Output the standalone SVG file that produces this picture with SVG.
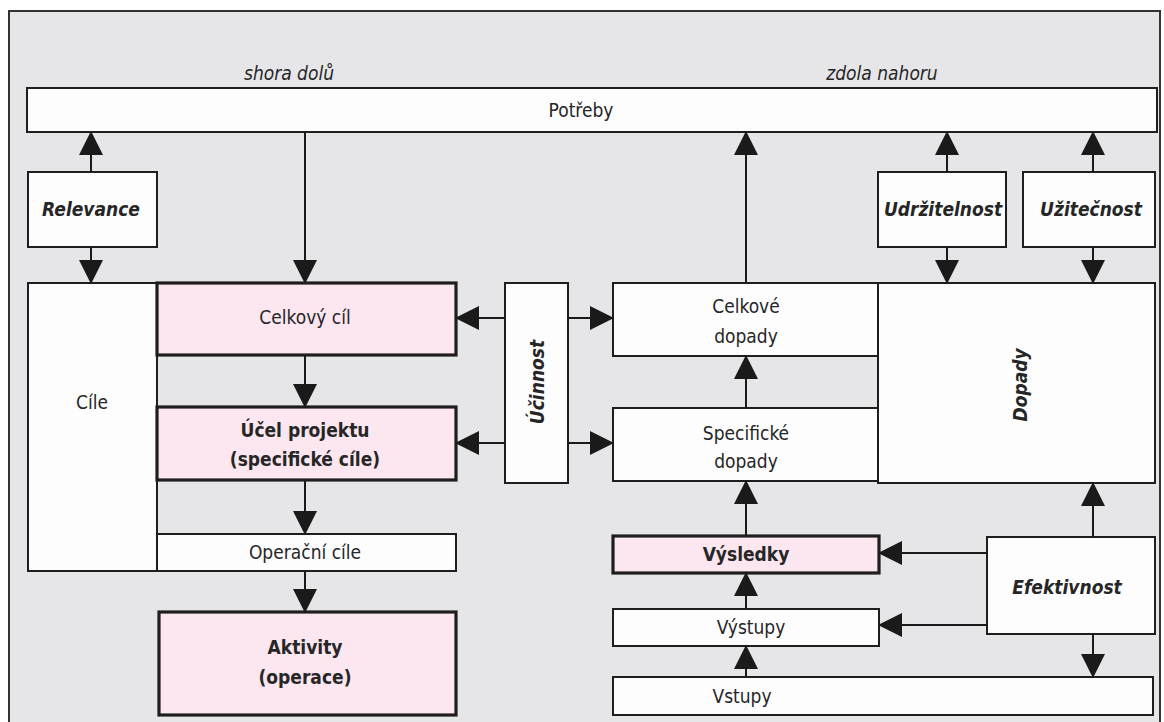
<svg xmlns="http://www.w3.org/2000/svg" width="1164" height="722" viewBox="0 0 1164 722">
<defs>
<marker id="ah" markerUnits="userSpaceOnUse" markerWidth="24" markerHeight="24" viewBox="0 0 24 24" refX="23" refY="12" orient="auto">
<path d="M0,0 L24,12 L0,24 z" fill="#1a1a1a"/>
</marker>
<style>
.bx{fill:#fdfdfd;stroke:#1e1e1e;stroke-width:2}
.pk{fill:#fce6ef;stroke:#1e1e1e;stroke-width:3.2}
.t{font-family:"DejaVu Sans Condensed","DejaVu Sans",sans-serif;font-stretch:condensed;font-size:19px;fill:#262626;text-anchor:middle}
.b{font-weight:bold}
.i{font-style:italic}
.c line{stroke:#1a1a1a;stroke-width:2;marker-end:url(#ah)}
</style>
</defs>
<rect x="0" y="0" width="1164" height="722" fill="#ffffff"/>
<rect x="9" y="11" width="1151" height="720" fill="#e6e6e8" stroke="#333" stroke-width="2"/>
<text class="t i" x="289" y="80">shora dolů</text>
<text class="t i" x="882" y="80">zdola nahoru</text>
<g id="potreby"><rect class="bx" x="27" y="88" width="1130" height="44"/><text class="t" x="581" y="117">Potřeby</text></g>
<g id="relevance"><rect class="bx" x="28" y="172" width="129" height="75"/><text class="t b i" x="91" y="216">Relevance</text></g>
<g id="udrzitelnost"><rect class="bx" x="878" y="172" width="128" height="75"/><text class="t b i" x="943" y="216">Udržitelnost</text></g>
<g id="uzitecnost"><rect class="bx" x="1023" y="172" width="132" height="75"/><text class="t b i" x="1091" y="216">Užitečnost</text></g>
<g id="cile"><rect class="bx" x="28" y="283" width="129" height="288"/><text class="t" x="92" y="409">Cíle</text></g>
<g id="celkovy-cil"><rect class="pk" x="157" y="283" width="299" height="72"/><text class="t" x="305" y="324">Celkový cíl</text></g>
<g id="ucel-projektu"><rect class="pk" x="157" y="407" width="299" height="73"/><text class="t b" x="305" y="437">Účel projektu</text><text class="t b" x="305" y="466">(specifické cíle)</text></g>
<g id="operacni-cile"><rect class="bx" x="157" y="534" width="299" height="37"/><text class="t" x="305" y="559">Operační cíle</text></g>
<g id="aktivity"><rect class="pk" x="159" y="612" width="297" height="103"/><text class="t b" x="305" y="654">Aktivity</text><text class="t b" x="305" y="684">(operace)</text></g>
<g id="ucinnost"><rect class="bx" x="505" y="283" width="63" height="200"/><text class="t b i" transform="translate(544 382) rotate(-90)">Účinnost</text></g>
<g id="celkove-dopady"><rect class="bx" x="613" y="283" width="265" height="73"/><text class="t" x="746" y="313">Celkové</text><text class="t" x="746" y="343">dopady</text></g>
<g id="dopady"><rect class="bx" x="878" y="283" width="277" height="200"/><text class="t b i" transform="translate(1027 385) rotate(-90)">Dopady</text></g>
<g id="specificke-dopady"><rect class="bx" x="613" y="408" width="265" height="73"/><text class="t" x="746" y="440">Specifické</text><text class="t" x="746" y="468">dopady</text></g>
<g id="vysledky"><rect class="pk" x="613" y="536" width="266" height="37"/><text class="t b" x="746" y="561">Výsledky</text></g>
<g id="vystupy"><rect class="bx" x="613" y="609" width="266" height="37"/><text class="t" x="751" y="634">Výstupy</text></g>
<g id="vstupy"><rect class="bx" x="613" y="677" width="540" height="38"/><text class="t" x="742" y="703">Vstupy</text></g>
<g id="efektivnost"><rect class="bx" x="987" y="537" width="168" height="97"/><text class="t b i" x="1067" y="594">Efektivnost</text></g>
<g class="c" id="connectors">
<line x1="91" y1="172" x2="91" y2="132"/>
<line x1="91" y1="247" x2="91" y2="283"/>
<line x1="305" y1="132" x2="305" y2="283"/>
<line x1="305" y1="355" x2="305" y2="407"/>
<line x1="305" y1="480" x2="305" y2="534"/>
<line x1="305" y1="571" x2="305" y2="612"/>
<line x1="505" y1="318" x2="456" y2="318"/>
<line x1="505" y1="443" x2="456" y2="443"/>
<line x1="568" y1="318" x2="613" y2="318"/>
<line x1="568" y1="443" x2="613" y2="443"/>
<line x1="746" y1="283" x2="746" y2="132"/>
<line x1="746" y1="408" x2="746" y2="356"/>
<line x1="746" y1="536" x2="746" y2="481"/>
<line x1="746" y1="609" x2="746" y2="573"/>
<line x1="746" y1="677" x2="746" y2="646"/>
<line x1="947" y1="172" x2="947" y2="132"/>
<line x1="947" y1="247" x2="947" y2="283"/>
<line x1="1093" y1="172" x2="1093" y2="132"/>
<line x1="1093" y1="247" x2="1093" y2="283"/>
<line x1="987" y1="553" x2="879" y2="553"/>
<line x1="987" y1="625" x2="879" y2="625"/>
<line x1="1093" y1="537" x2="1093" y2="483"/>
<line x1="1093" y1="634" x2="1093" y2="677"/>
</g>
</svg>
